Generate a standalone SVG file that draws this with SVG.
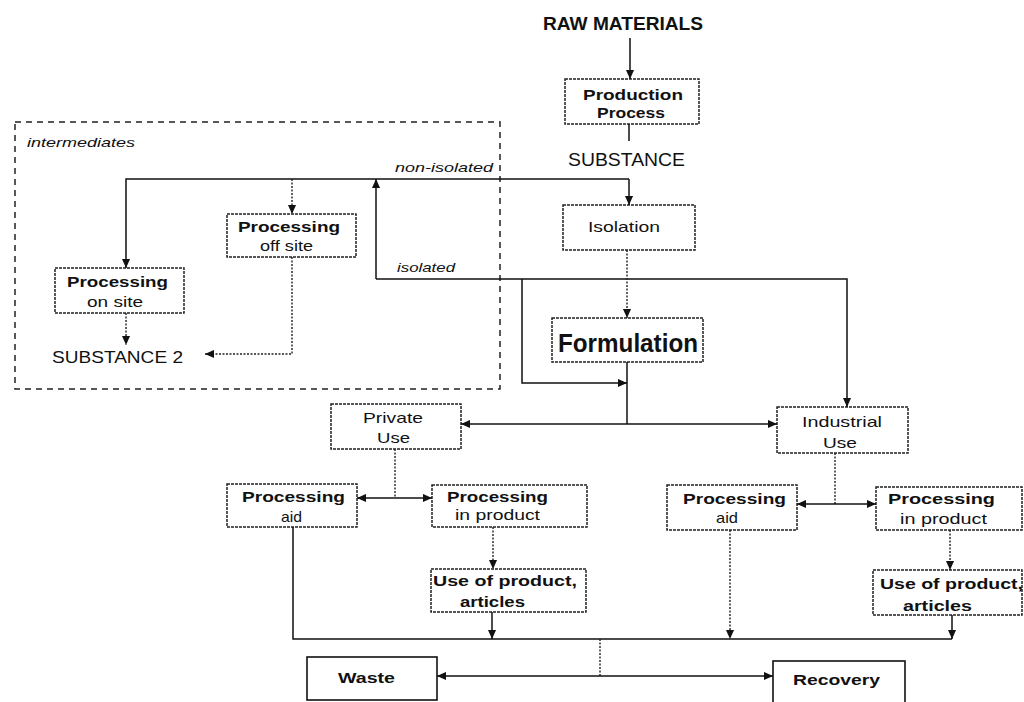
<svg xmlns="http://www.w3.org/2000/svg" width="1024" height="702" viewBox="0 0 1024 702">
<defs>
<marker id="ah" viewBox="0 0 10 10" refX="10" refY="5" markerWidth="9" markerHeight="9" markerUnits="userSpaceOnUse" orient="auto">
<path d="M0,0.5 L10,5 L0,9.5 z" fill="#111"/>
</marker>
<style>
.bx{fill:none;stroke:#222;stroke-width:1.5;stroke-dasharray:3 1}
.sb{fill:none;stroke:#111;stroke-width:1.6}
.ln{fill:none;stroke:#111;stroke-width:1.5}
.dl{fill:none;stroke:#222;stroke-width:1.4;stroke-dasharray:2 1.5}
.ar{marker-end:url(#ah)}
text{font-family:"Liberation Sans",Arial,sans-serif;fill:#111}
.b{font-weight:bold;font-size:15px}
.r{font-size:15px}
.i{font-style:italic;font-size:13px}
</style>
</defs>
<rect width="1024" height="702" fill="#fff"/>

<g id="intermediates">
<rect x="15" y="122" width="485" height="267" fill="none" stroke="#222" stroke-width="1.5" stroke-dasharray="6 5"/>
<text class="i" x="27" y="147" textLength="108" lengthAdjust="spacingAndGlyphs" font-size="14">intermediates</text>
</g>

<g id="raw-materials">
<text x="543" y="30" font-size="18" font-weight="bold" textLength="160" lengthAdjust="spacingAndGlyphs">RAW MATERIALS</text>
</g>

<g id="production-process">
<rect class="bx" x="565" y="79" width="134" height="45"/>
<text class="b" x="583" y="100" textLength="100" lengthAdjust="spacingAndGlyphs" font-size="16">Production</text>
<text class="b" x="597" y="118" textLength="68" lengthAdjust="spacingAndGlyphs" font-size="16">Process</text>
</g>

<g id="substance">
<text x="568" y="166" font-size="18" textLength="117" lengthAdjust="spacingAndGlyphs">SUBSTANCE</text>
</g>

<g id="isolation">
<rect class="bx" x="563" y="205" width="132" height="45"/>
<text class="r" x="588" y="232" textLength="72" lengthAdjust="spacingAndGlyphs">Isolation</text>
</g>

<g id="formulation">
<rect class="bx" x="552" y="318" width="151" height="44"/>
<text x="558" y="352" font-size="26" font-weight="bold" textLength="140" lengthAdjust="spacingAndGlyphs">Formulation</text>
</g>

<g id="processing-off-site">
<rect class="bx" x="227" y="214" width="129" height="43"/>
<text class="b" x="238" y="232" textLength="102" lengthAdjust="spacingAndGlyphs">Processing</text>
<text class="r" x="260" y="251" textLength="53" lengthAdjust="spacingAndGlyphs">off site</text>
</g>

<g id="processing-on-site">
<rect class="bx" x="55" y="268" width="129" height="45"/>
<text class="b" x="67" y="287" textLength="101" lengthAdjust="spacingAndGlyphs">Processing</text>
<text class="r" x="87" y="307" textLength="56" lengthAdjust="spacingAndGlyphs">on site</text>
</g>

<g id="substance-2">
<text x="52" y="363" font-size="17" textLength="131" lengthAdjust="spacingAndGlyphs">SUBSTANCE 2</text>
</g>

<g id="label-non-isolated">
<text class="i" x="395" y="172" textLength="98" lengthAdjust="spacingAndGlyphs">non-isolated</text>
</g>
<g id="label-isolated">
<text class="i" x="397" y="272" textLength="58" lengthAdjust="spacingAndGlyphs">isolated</text>
</g>

<g id="private-use">
<rect class="bx" x="331" y="404" width="130" height="45"/>
<text class="r" x="363" y="423" textLength="60" lengthAdjust="spacingAndGlyphs">Private</text>
<text class="r" x="377" y="443" textLength="33" lengthAdjust="spacingAndGlyphs">Use</text>
</g>

<g id="industrial-use">
<rect class="bx" x="777" y="407" width="131" height="46"/>
<text class="r" x="802" y="427" textLength="80" lengthAdjust="spacingAndGlyphs">Industrial</text>
<text class="r" x="823" y="448" textLength="34" lengthAdjust="spacingAndGlyphs">Use</text>
</g>

<g id="processing-aid-private">
<rect class="bx" x="227" y="484" width="130" height="43"/>
<text class="b" x="242" y="502" textLength="103" lengthAdjust="spacingAndGlyphs">Processing</text>
<text class="r" x="281" y="522" textLength="21" lengthAdjust="spacingAndGlyphs">aid</text>
</g>

<g id="processing-in-product-private">
<rect class="bx" x="432" y="485" width="155" height="42"/>
<text class="b" x="447" y="502" textLength="101" lengthAdjust="spacingAndGlyphs">Processing</text>
<text class="r" x="455" y="520" textLength="85" lengthAdjust="spacingAndGlyphs">in product</text>
</g>

<g id="use-of-product-private">
<rect class="bx" x="431" y="569" width="155" height="43"/>
<text class="b" x="433" y="586" textLength="144" lengthAdjust="spacingAndGlyphs" font-size="16">Use of product,</text>
<text class="b" x="460" y="607" textLength="65" lengthAdjust="spacingAndGlyphs">articles</text>
</g>

<g id="processing-aid-industrial">
<rect class="bx" x="667" y="485" width="130" height="45"/>
<text class="b" x="683" y="504" textLength="103" lengthAdjust="spacingAndGlyphs">Processing</text>
<text class="r" x="716" y="523" textLength="22" lengthAdjust="spacingAndGlyphs">aid</text>
</g>

<g id="processing-in-product-industrial">
<rect class="bx" x="876" y="487" width="146" height="43"/>
<text class="b" x="888" y="504" textLength="107" lengthAdjust="spacingAndGlyphs">Processing</text>
<text class="r" x="900" y="524" textLength="87" lengthAdjust="spacingAndGlyphs">in product</text>
</g>

<g id="use-of-product-industrial">
<rect class="bx" x="873" y="570" width="149" height="45"/>
<text class="b" x="880" y="589" textLength="143" lengthAdjust="spacingAndGlyphs" font-size="16">Use of product,</text>
<text class="b" x="903" y="611" textLength="69" lengthAdjust="spacingAndGlyphs" font-size="16">articles</text>
</g>

<g id="waste">
<rect class="sb" x="307" y="657" width="130" height="43"/>
<text class="b" x="338" y="683" textLength="57" lengthAdjust="spacingAndGlyphs">Waste</text>
</g>

<g id="recovery">
<rect class="sb" x="773" y="661" width="132" height="50"/>
<text class="b" x="793" y="685" textLength="87" lengthAdjust="spacingAndGlyphs">Recovery</text>
</g>

<g id="connectors">
<path class="ln ar" d="M630,38 V79"/>
<path class="ln" d="M629,124 V141"/>
<path class="ln ar" d="M629,179 V205"/>
<path class="ln ar" d="M629,179 H126 V268"/>
<path class="dl ar" d="M292,179 V214"/>
<path class="ln ar" d="M376,279 V179"/>
<path class="ln ar" d="M376,279 H847 V407"/>
<path class="ln ar" d="M522,279 V383 H627"/>
<path class="dl ar" d="M627,250 V318"/>
<path class="ln" d="M627,362 V424"/>
<path class="ln ar" d="M627,424 H461"/>
<path class="ln ar" d="M627,424 H777"/>
<path class="dl" d="M395,449 V498"/>
<path class="ln ar" d="M395,498 H357"/>
<path class="ln ar" d="M395,498 H432"/>
<path class="dl" d="M835,453 V504"/>
<path class="ln ar" d="M835,504 H797"/>
<path class="ln ar" d="M835,504 H876"/>
<path class="dl ar" d="M292,257 V354 H205"/>
<path class="dl ar" d="M126,313 V345"/>
<path class="dl ar" d="M493,527 V569"/>
<path class="dl ar" d="M950,530 V570"/>
<path class="ln" d="M293,527 V639 H952"/>
<path class="ln ar" d="M492,612 V639"/>
<path class="dl ar" d="M730,530 V639"/>
<path class="ln ar" d="M952,615 V639"/>
<path class="dl" d="M600,639 V676"/>
<path class="ln ar" d="M600,676 H437"/>
<path class="ln ar" d="M600,676 H773"/>
</g>
</svg>
